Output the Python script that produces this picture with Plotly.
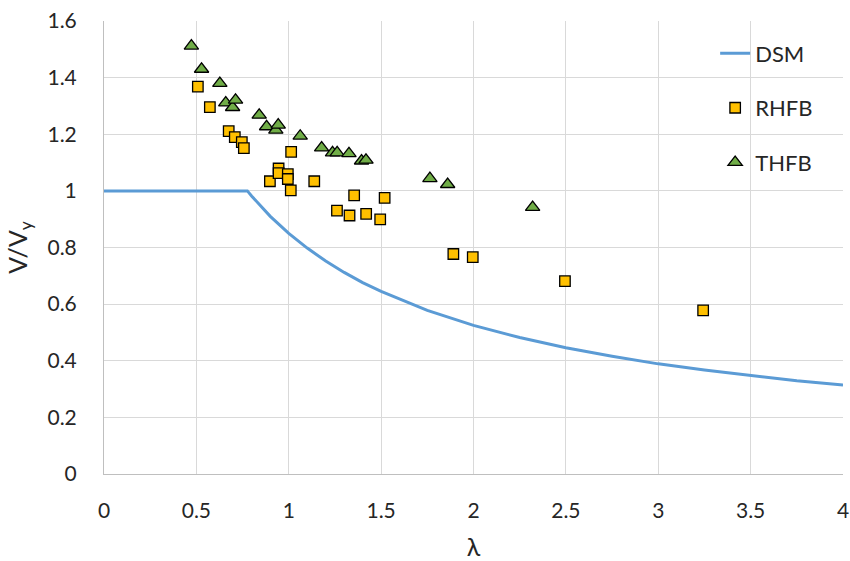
import plotly.graph_objects as go

# DSM design curve
dsm_lambda = [0, 0.776, 0.8, 0.9, 1.0, 1.1, 1.2, 1.3, 1.4, 1.5, 1.75, 2.0, 2.25, 2.5, 2.75, 3.0, 3.25, 3.5, 3.75, 4.0]
dsm_v = [1.0, 1.0, 0.981, 0.910, 0.850, 0.798, 0.752, 0.712, 0.676, 0.645, 0.578, 0.525, 0.482, 0.446, 0.416, 0.389, 0.367, 0.347, 0.329, 0.314]

# RHFB test points
rhfb_lambda = [0.508, 0.573, 0.675, 0.708, 0.746, 0.757, 0.898, 0.945, 0.945, 0.995, 0.995, 1.011, 1.013,
               1.138, 1.261, 1.329, 1.354, 1.419, 1.495, 1.519, 1.891, 1.996, 2.495, 3.243]
rhfb_v = [1.368, 1.296, 1.211, 1.190, 1.172, 1.151, 1.034, 1.079, 1.063, 1.059, 1.042, 1.002, 1.138,
          1.034, 0.930, 0.913, 0.984, 0.919, 0.899, 0.975, 0.777, 0.766, 0.681, 0.578]

# THFB test points
thfb_lambda = [0.473, 0.528, 0.627, 0.659, 0.696, 0.712, 0.840, 0.880, 0.930, 0.943, 1.062, 1.178,
               1.237, 1.262, 1.326, 1.394, 1.418, 1.764, 1.860, 2.320]
thfb_v = [1.512, 1.430, 1.380, 1.311, 1.295, 1.321, 1.268, 1.227, 1.215, 1.233, 1.194, 1.152,
          1.135, 1.135, 1.132, 1.106, 1.109, 1.044, 1.023, 0.942]

x_ticks = [0, 0.5, 1, 1.5, 2, 2.5, 3, 3.5, 4]
x_tick_labels = ["0", "0.5", "1", "1.5", "2", "2.5", "3", "3.5", "4"]
y_ticks = [0, 0.2, 0.4, 0.6, 0.8, 1.0, 1.2, 1.4, 1.6]
y_tick_labels = ["0", "0.2", "0.4", "0.6", "0.8", "1", "1.2", "1.4", "1.6"]

FONT = "Lato, 'Open Sans', sans-serif"

fig = go.Figure()
fig.add_trace(go.Scatter(x=dsm_lambda, y=dsm_v, mode="lines", name="DSM",
                         line=dict(color="#5B9BD5", width=3), legendgroup="a"))
fig.add_trace(go.Scatter(x=rhfb_lambda, y=rhfb_v, mode="markers", name="RHFB",
                         marker=dict(symbol="square", size=10.5, color="#FFC000",
                                     line=dict(color="black", width=1.3)), legendgroup="b"))
fig.add_trace(go.Scatter(x=thfb_lambda, y=thfb_v, mode="markers", name="THFB",
                         marker=dict(symbol="triangle-up", size=12.5, color="#70AD47",
                                     line=dict(color="black", width=1.3)), legendgroup="c"))

fig.update_layout(
    width=850, height=561,
    margin=dict(l=104, r=7, t=21, b=87),
    paper_bgcolor="white", plot_bgcolor="white",
    font=dict(family=FONT, size=21, color="#262626"),
    showlegend=True,
    legend=dict(x=0.827, y=0.975, xanchor="left", yanchor="top",
                bgcolor="rgba(0,0,0,0)", tracegroupgap=23,
                font=dict(family=FONT, size=22, color="#262626")),
    xaxis=dict(range=[0, 4], tickvals=x_ticks, ticktext=x_tick_labels,
               showgrid=True, gridcolor="#D9D9D9", gridwidth=1,
               showline=True, linecolor="#BFBFBF", linewidth=1,
               zeroline=False, ticks="", automargin=False, ticklabelstandoff=18,
               ticklabeloverflow="allow",
               title=dict(text="λ", standoff=22)),
    yaxis=dict(range=[0, 1.6], tickvals=y_ticks, ticktext=y_tick_labels,
               showgrid=True, gridcolor="#D9D9D9", gridwidth=1,
               showline=True, linecolor="#BFBFBF", linewidth=1,
               zeroline=False, ticks="", automargin=False, ticklabelstandoff=22,
               ticklabeloverflow="allow",
               title=dict(text="V/V<sub>y</sub>", standoff=12)),
)

# remove the default page margin so the 850x561 figure fills the window exactly
fig.write_html("out.html", config={"displayModeBar": False},
               post_script="document.body.style.margin='0px';")
